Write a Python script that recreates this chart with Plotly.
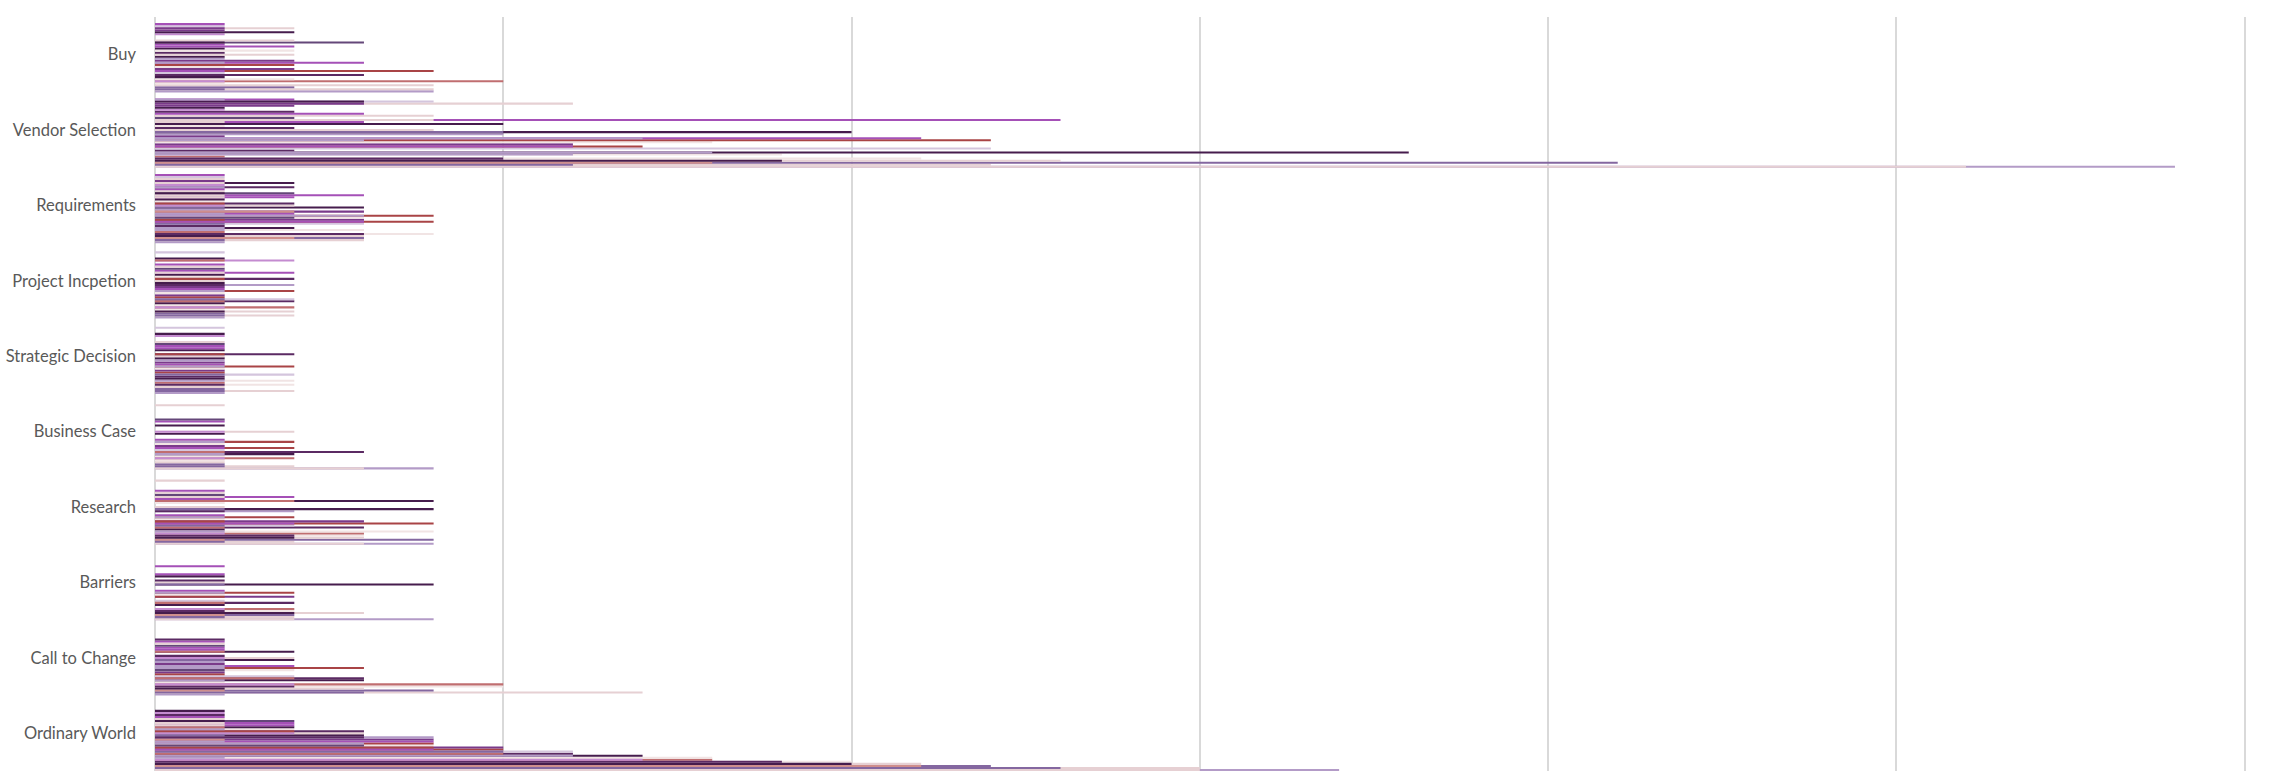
import plotly.graph_objects as go

# Categories, bottom to top (as drawn)
categories = ["Ordinary World", "Call to Change", "Barriers", "Research", "Business Case",
              "Strategic Decision", "Project Incpetion", "Requirements", "Vendor Selection", "Buy"]

# Values per category, one entry per series slot (slot 0 = bottom of each group)
ordinary_world = [17, 15, 12, 11, 10, 8, 8, 7, 6, 6, 5, 5, 4, 4, 4, 4, 4, 3, 3, 3, 2, 2, 2, 2, 2,
                  1, 1, 1, 1, 1, 0, 0, 0, 0, 0, 0, 0]
call_to_change = [1, 7, 4, 3, 5, 5, 1, 3, 3, 2, 1, 1, 2, 3, 2, 1, 1, 2, 2, 1, 0, 2, 1, 1, 1,
                  1, 1, 1, 0, 0, 0, 0, 0, 0, 0, 0, 0]
barriers = [4, 2, 2, 3, 2, 2, 0, 1, 2, 1, 0, 2, 1, 2, 1, 0, 0, 4, 1, 1, 0, 1, 1, 0, 0,
            0, 1, 0, 0, 0, 0, 0, 0, 0, 0, 0, 0]
research = [4, 2, 4, 3, 3, 3, 4, 1, 3, 2, 4, 3, 1, 2, 1, 0, 2, 4, 1, 0, 1, 4, 1, 2, 1,
            1, 1, 0, 0, 0, 0, 1, 0, 0, 0, 0, 0]
business_case = [4, 2, 1, 1, 1, 2, 1, 2, 3, 1, 2, 1, 1, 2, 1, 0, 0, 1, 2, 0, 0, 1, 0, 1, 1,
                 0, 0, 0, 0, 0, 0, 1, 0, 0, 0, 0, 0]
strategic_decision = [1, 2, 1, 1, 2, 1, 2, 1, 1, 2, 1, 1, 1, 2, 1, 1, 1, 1, 1, 2, 0, 1, 1, 1, 1,
                      1, 0, 0, 1, 1, 0, 0, 1, 0, 0, 0, 0]
project_incpetion = [1, 2, 1, 2, 1, 2, 1, 1, 2, 2, 1, 1, 1, 2, 1, 1, 2, 1, 1, 2, 1, 1, 2, 1, 1,
                     1, 1, 0, 2, 1, 0, 0, 1, 0, 0, 0, 0]
requirements = [1, 3, 3, 3, 4, 1, 3, 2, 1, 3, 4, 3, 3, 4, 2, 3, 1, 3, 2, 2, 1, 1, 2, 3, 2,
                1, 1, 2, 1, 2, 1, 1, 1, 1, 0, 0, 0]
vendor_selection = [29, 12, 21, 13, 11, 1, 9, 18, 2, 12, 7, 6, 8, 12, 11, 1, 5, 10, 4, 2, 1, 5, 3, 13, 2,
                    4, 3, 2, 1, 1, 2, 6, 4, 2, 0, 0, 0]
buy = [4, 4, 2, 4, 1, 5, 2, 1, 3, 1, 4, 2, 1, 2, 3, 2, 1, 1, 2, 1, 2, 1, 2, 1, 3,
       2, 0, 0, 1, 2, 1, 2, 1, 1, 0, 0, 0]

# Shorter overlapping series sharing the same rows
ordinary_world_inner = [15, 13, 11, 10, 9, 7, 1, 6, 5, 5, 4, 4, 3, 3, 1, 1, 3, 1, 2, 2, 1, 1, 1, 1, 1,
                        0, 0, 0, 0, 0, 0, 0, 0, 0, 0, 0, 0]
call_to_change_inner = [0, 3, 1, 1, 2, 2, 0, 1, 2, 0, 0, 0, 1, 1, 1, 0, 0, 1, 1, 0, 0, 1, 0, 0, 0,
                        0, 0, 0, 0, 0, 0, 0, 0, 0, 0, 0, 0]
barriers_inner = [2, 1, 1, 2, 1, 1, 0, 0, 1, 0, 0, 1, 0, 1, 0, 0, 0, 1, 0, 0, 0, 0, 0, 0, 0,
                  0, 0, 0, 0, 0, 0, 0, 0, 0, 0, 0, 0]
research_inner = [3, 1, 1, 2, 2, 1, 1, 0, 1, 1, 2, 1, 0, 1, 0, 0, 1, 1, 0, 0, 0, 2, 0, 1, 0,
                  0, 0, 0, 0, 0, 0, 0, 0, 0, 0, 0, 0]
business_case_inner = [3, 1, 0, 0, 0, 1, 0, 1, 1, 0, 1, 0, 0, 1, 0, 0, 0, 0, 1, 0, 0, 0, 0, 0, 0,
                       0, 0, 0, 0, 0, 0, 0, 0, 0, 0, 0, 0]
strategic_decision_inner = [0, 1, 0, 0, 1, 0, 1, 0, 0, 1, 0, 0, 0, 1, 0, 0, 0, 0, 0, 1, 0, 0, 0, 0, 0,
                            0, 0, 0, 0, 0, 0, 0, 0, 0, 0, 0, 0]
project_incpetion_inner = [0, 1, 0, 1, 0, 1, 0, 0, 1, 1, 0, 0, 0, 1, 0, 0, 1, 0, 0, 1, 0, 0, 1, 0, 0,
                           0, 0, 0, 1, 0, 0, 0, 0, 0, 0, 0, 0]
requirements_inner = [0, 1, 2, 1, 3, 0, 1, 1, 0, 1, 3, 1, 2, 3, 1, 2, 0, 1, 1, 1, 0, 0, 1, 1, 1,
                      0, 0, 1, 0, 1, 0, 0, 0, 0, 0, 0, 0]
vendor_selection_inner = [26, 6, 8, 9, 5, 0, 6, 8, 0, 0, 6, 0, 0, 3, 7, 0, 0, 5, 0, 0, 0, 0, 1, 4, 0,
                          0, 0, 0, 0, 0, 0, 3, 3, 1, 0, 0, 0]
buy_inner = [0, 1, 0, 0, 0, 1, 0, 0, 0, 0, 1, 0, 0, 0, 1, 0, 0, 0, 0, 0, 0, 0, 0, 0, 1,
             0, 0, 0, 0, 0, 0, 1, 0, 0, 0, 0, 0]

values_by_cat = [ordinary_world, call_to_change, barriers, research, business_case,
                 strategic_decision, project_incpetion, requirements, vendor_selection, buy]
inner_by_cat = [ordinary_world_inner, call_to_change_inner, barriers_inner, research_inner,
                business_case_inner, strategic_decision_inner, project_incpetion_inner,
                requirements_inner, vendor_selection_inner, buy_inner]

pal = {
    "aub": "#461C4D", "plum": "#5B2A63", "purple": "#7A3A8A", "orchid": "#A550B7",
    "lorchid": "#C48BD0", "mauve": "#8467A0", "dmauve": "#644779", "lav": "#B39BC7",
    "llav": "#D4C5DD", "pink": "#E6D0D3", "vpale": "#F1E4E4", "red": "#A94446",
    "rose": "#C06E70", "salmon": "#CF8E8C",
}
primary_order = ["lav", "pink", "mauve", "pink", "vpale", "rose", "vpale", "aub", "plum", "llav",
                 "red", "purple", "vpale", "red", "orchid", "purple", "lav", "aub", "pink", "plum",
                 "vpale", "aub", "orchid", "orchid", "dmauve", "pink", "orchid", "plum", "lorchid",
                 "aub", "purple", "pink", "llav", "orchid", "rose", "lav", "red"]
inner_order = ["pink", "mauve", "salmon", "aub", "plum", "lorchid", "lav", "lav", "rose", "mauve",
               "orchid", "red", "dmauve", "lav", "lav", "salmon", "plum", "mauve", "lorchid", "red",
               "lav", "rose", "pink", "pink", "aub", "plum", "red", "lav", "rose", "pink", "dmauve",
               "purple", "aub", "lav", "plum", "rose", "aub"]

N = len(ordinary_world)
w = 1.0 / N

fig = go.Figure()
for k in range(N):
    fig.add_trace(go.Bar(
        y=categories, x=[v[k] for v in values_by_cat], orientation="h",
        width=w, offset=-0.5 + k * w,
        marker=dict(color=pal[primary_order[k]], line=dict(width=0)),
        showlegend=False, name=f"Series {k + 1}"))
for k in range(N):
    xs = [v[k] for v in inner_by_cat]
    if any(xs):
        fig.add_trace(go.Bar(
            y=categories, x=xs, orientation="h",
            width=w, offset=-0.5 + k * w,
            marker=dict(color=pal[inner_order[k]], line=dict(width=0)),
            showlegend=False, name=f"Series {k + 1}b"))

fig.update_layout(
    width=2290, height=782,
    margin=dict(l=155, r=44, t=17, b=11),
    barmode="overlay",
    plot_bgcolor="white", paper_bgcolor="white",
    xaxis=dict(range=[0, 30.02], dtick=5, showgrid=True, gridcolor="#D9D9D9", gridwidth=1.5,
               showticklabels=False, zeroline=True, zerolinecolor="#D9D9D9", zerolinewidth=2,
               showline=False, fixedrange=True, automargin=False),
    yaxis=dict(categoryorder="array", categoryarray=categories, range=[-0.5, 9.5],
               showgrid=False, zeroline=False, showline=False, ticks="",
               ticklabelstandoff=18, automargin=False,
               tickfont=dict(family="Lato, Open Sans, sans-serif", size=16.5, color="#595959")),
)

fig.write_html("out.html", config={"displayModeBar": False},
               post_script="document.body.style.margin='0';")
